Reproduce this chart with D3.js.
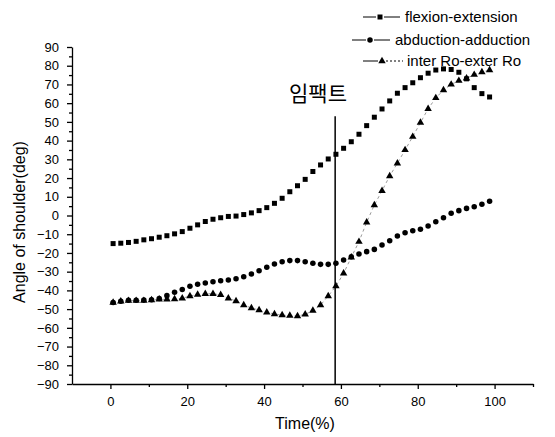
<!DOCTYPE html>
<html>
<head>
<meta charset="utf-8">
<script src="https://cdnjs.cloudflare.com/ajax/libs/d3/7.8.5/d3.min.js"></script>
<style>
  html, body { margin: 0; padding: 0; background: #fff; }
  svg { display: block; }
  text { font-family: "Liberation Sans", Arial, sans-serif; fill: #000; }
</style>
</head>
<body>
<svg id="chart" width="555" height="437"></svg>
<script>
// ---- data ----
const time = [0.7, 2.7, 4.7, 6.7, 8.7, 10.7, 12.7, 14.7, 16.7, 18.7,
              20.7, 22.7, 24.7, 26.7, 28.7, 30.7, 32.7, 34.7, 36.7, 38.7,
              40.7, 42.7, 44.7, 46.7, 48.7, 50.7, 52.7, 54.7, 56.7, 58.7,
              60.7, 62.7, 64.7, 66.7, 68.7, 70.7, 72.7, 74.7, 76.7, 78.7,
              80.7, 82.7, 84.7, 86.7, 88.7, 90.7, 92.7, 94.7, 96.7, 98.7];
const flexionExtension = [-15, -14.8, -14.4, -13.8, -13, -12.4, -11.6, -10.8, -9.8, -8.6,
                          -6.8, -5, -3.2, -2, -1.2, -0.5, -0.3, 0.5, 1.4, 2.6,
                          4.2, 6.5, 9.2, 12.7, 15.9, 19.3, 23.5, 27, 30.2, 32.7,
                          35.9, 39.4, 43.4, 48, 52.5, 56.9, 61.2, 65.3, 68.3, 70.9,
                          73.6, 76, 77.7, 78.3, 78, 76.5, 73, 68.3, 65.1, 63.3];
const abductionAdduction = [-46.5, -45.8, -45.3, -45.3, -45.2, -45, -44.3, -42.8, -41, -39.5,
                            -37.8, -36.7, -36, -35.4, -34.9, -34.5, -33.8, -32.7, -31.3, -29.5,
                            -27.7, -25.9, -24.7, -24.1, -24.1, -24.7, -25.5, -26.1, -26.1, -25.5,
                            -23.8, -22, -20.6, -19.3, -18.1, -15.8, -13.5, -11, -9.2, -8.1,
                            -7.4, -5.6, -3.3, -1.2, 1.2, 2.6, 3.8, 4.7, 6, 7.6];
const interExterRo = [-46.5, -45.8, -45.5, -45.5, -45.5, -45.2, -44.8, -44.8, -44.6, -44.2,
                      -43, -42.2, -41.8, -41.8, -42.4, -44.2, -45.7, -47.8, -49.4, -50.5,
                      -51.7, -52.6, -53.2, -53.5, -53.7, -52.8, -50.8, -47.8, -43, -37.7,
                      -30.9, -22.3, -14, -3.6, 5.6, 13.2, 21.1, 27.9, 35, 42.1,
                      49.6, 57, 62.8, 67, 70, 72, 73.3, 75.2, 76.6, 77.7];
const seriesNames = ["flexion-extension", "abduction-adduction", "inter Ro-exter Ro"];
const xTickValues = [0, 20, 40, 60, 80, 100];
const xMinorTicks = [10, 30, 50, 70, 90, 110];
const yTickValues = [-90, -80, -70, -60, -50, -40, -30, -20, -10, 0, 10, 20, 30, 40, 50, 60, 70, 80, 90];
const yMinorTicks = [-85, -75, -65, -55, -45, -35, -25, -15, -5, 5, 15, 25, 35, 45, 55, 65, 75, 85];
const impactTime = 58.5;
const impactTop = 53;
const impactLabel = "임팩트";
const xTitle = "Time(%)";
const yTitle = "Angle of shoulder(deg)";

// ---- layout ----
const svg = d3.select("#chart");
const x = d3.scaleLinear().domain([-10, 110]).range([72, 533]);
const y = d3.scaleLinear().domain([-90, 90]).range([384, 47]);

// axes
svg.append("g").attr("transform", `translate(0,${y(-90)})`)
  .call(d3.axisBottom(x).tickValues(xTickValues).tickSize(5).tickSizeOuter(0).tickPadding(8));
const xMinor = svg.append("g").attr("transform", `translate(0,${y(-90)})`)
  .call(d3.axisBottom(x).tickValues(xMinorTicks).tickSize(3).tickSizeOuter(0).tickFormat(""));
xMinor.select(".domain").remove();

svg.append("g").attr("transform", `translate(${x(-10)},0)`)
  .call(d3.axisLeft(y).tickValues(yTickValues).tickSize(5).tickSizeOuter(0).tickPadding(8));
const yMinor = svg.append("g").attr("transform", `translate(${x(-10)},0)`)
  .call(d3.axisLeft(y).tickValues(yMinorTicks).tickSize(3).tickSizeOuter(0).tickFormat(""));
yMinor.select(".domain").remove();

svg.selectAll(".tick text").style("font-size", "13px").style("font-family", '"Liberation Sans", Arial, sans-serif');
svg.selectAll(".domain, .tick line").attr("stroke", "#000").attr("stroke-width", 1.3);

// titles
svg.append("text").attr("x", 305).attr("y", 429).attr("text-anchor", "middle")
  .style("font-size", "16px").text(xTitle);
svg.append("text").attr("transform", `translate(25,222) rotate(-90)`).attr("text-anchor", "middle")
  .style("font-size", "16px").text(yTitle);

// impact line and label
svg.append("line").attr("x1", x(impactTime)).attr("x2", x(impactTime))
  .attr("y1", y(impactTop)).attr("y2", y(-90)).attr("stroke", "#000").attr("stroke-width", 1.5);
svg.append("text").attr("x", 318).attr("y", 101).attr("text-anchor", "middle")
  .style("font-family", '"Noto Sans CJK KR", sans-serif').style("font-size", "21px").text(impactLabel);

// series
const pts = (vals) => vals.map((v, i) => [time[i], v]);
const line = d3.line().x(d => x(d[0])).y(d => y(d[1]));

svg.append("path").datum(pts(interExterRo)).attr("d", line)
  .attr("fill", "none").attr("stroke", "#555").attr("stroke-width", 0.6).attr("stroke-dasharray", "3,3");

const symSquare = d3.symbol().type(d3.symbolSquare).size(25);
const symCircle = d3.symbol().type(d3.symbolCircle).size(24);
const symTri = d3.symbol().type(d3.symbolTriangle).size(24);

function drawMarkers(vals, sym) {
  svg.append("g").selectAll("path").data(pts(vals)).join("path")
    .attr("d", sym).attr("transform", d => `translate(${x(d[0])},${y(d[1])})`).attr("fill", "#000");
}
drawMarkers(interExterRo, symTri);
drawMarkers(abductionAdduction, symCircle);
drawMarkers(flexionExtension, symSquare);

// legend
const legend = [
  { name: seriesNames[0], sym: symSquare, l1: 363, l2: 400, m: 380, tx: 405, ty: 22, dash: null },
  { name: seriesNames[1], sym: symCircle, l1: 352, l2: 390, m: 370, tx: 395, ty: 45, dash: null },
  { name: seriesNames[2], sym: symTri, l1: 363, l2: 403, m: 382, tx: 407, ty: 66, dash: "2,2" }
];
legend.forEach(d => {
  const cy = d.ty - 5;
  svg.append("line").attr("x1", d.l1).attr("x2", d.m - 4).attr("y1", cy).attr("y2", cy)
    .attr("stroke", "#000").attr("stroke-width", 1);
  svg.append("line").attr("x1", d.m + 4).attr("x2", d.l2).attr("y1", cy).attr("y2", cy)
    .attr("stroke", "#000").attr("stroke-width", 1).attr("stroke-dasharray", d.dash);
  svg.append("path").attr("d", d.sym).attr("transform", `translate(${d.m},${cy})`).attr("fill", "#000");
  svg.append("text").attr("x", d.tx).attr("y", d.ty).style("font-size", "15px").text(d.name);
});
</script>
</body>
</html>
